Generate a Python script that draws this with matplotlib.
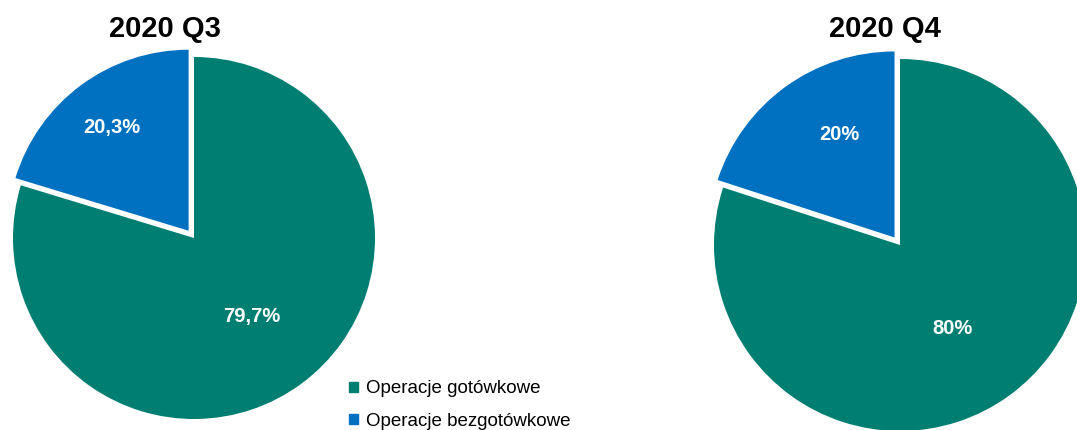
import numpy as np
import matplotlib
matplotlib.use("Agg")
import matplotlib.pyplot as plt
from matplotlib.patches import Patch

plt.rcParams['font.family'] = ['Liberation Sans', 'DejaVu Sans']

# data
categories = ['Operacje gotówkowe', 'Operacje bezgotówkowe']
periods = ['2020 Q3', '2020 Q4']
values_q3 = [79.7, 20.3]
values_q4 = [80.0, 20.0]
labels_q3 = ['79,7%', '20,3%']
labels_q4 = ['80%', '20%']

colors = ['#007E72', '#0070C0']

W, H = 1077, 430
fig = plt.figure(figsize=(W / 100, H / 100), dpi=100)


def px_axes(cx, cy, r):
    # axes box in pixel coords, y from top
    return fig.add_axes([(cx - r) / W, (H - cy - r) / H, 2 * r / W, 2 * r / H])


def draw_pie(ax, vals, labs, dists, shifts):
    wedges, _ = ax.pie(vals, colors=colors, startangle=90, counterclock=False,
                       explode=[0, 0.05], radius=1, wedgeprops=dict(linewidth=0))
    for w, lab, d, s in zip(wedges, labs, dists, shifts):
        ang = np.deg2rad((w.theta1 + w.theta2) / 2 + s)
        x = w.center[0] + d * w.r * np.cos(ang)
        y = w.center[1] + d * w.r * np.sin(ang)
        ax.text(x, y, lab, color='white', fontsize=14.5, fontweight='bold',
                ha='center', va='center')
    ax.set_xlim(-1, 1)
    ax.set_ylim(-1, 1)
    ax.set_aspect('auto')
    ax.axis('off')
    for p in ax.patches:
        p.set_clip_on(False)


ax1 = px_axes(194, 238, 181)
draw_pie(ax1, values_q3, labels_q3, [0.54, 0.71], [0, 0])

ax2 = px_axes(900, 245, 186)
draw_pie(ax2, values_q4, labels_q4, [0.53, 0.63], [-4, -8])

fig.text(165 / W, 1 - 29 / H, periods[0], fontsize=21, fontweight='bold',
         ha='center', va='center')
fig.text(885 / W, 1 - 29 / H, periods[1], fontsize=21, fontweight='bold',
         ha='center', va='center')

handles = [Patch(color=c) for c in colors]
fig.legend(handles, categories, loc='upper left',
           bbox_to_anchor=(340 / W, 1 - 371 / H), frameon=False,
           fontsize=13.5, handlelength=0.45, handleheight=0.45,
           handletextpad=0.45, labelspacing=0.82, borderpad=0)

fig.savefig('out.png', dpi=100)
